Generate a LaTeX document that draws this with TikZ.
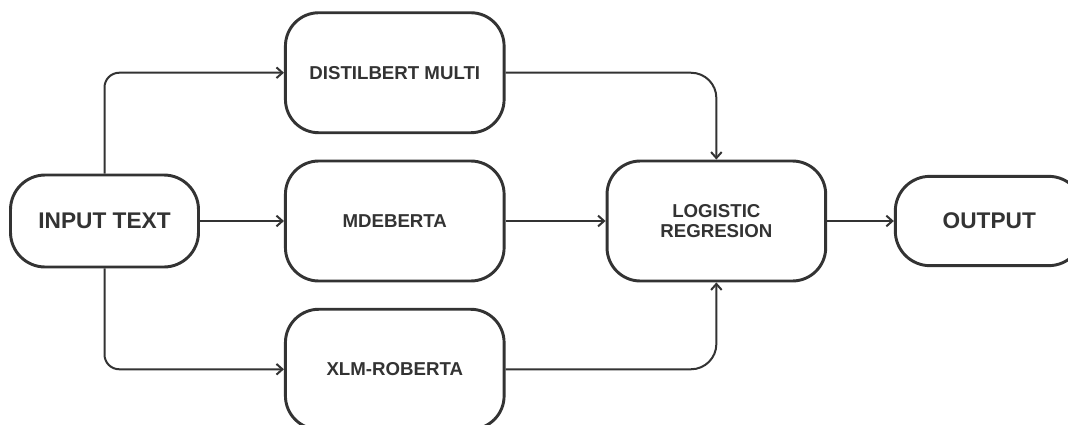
\documentclass[tikz,border=0pt]{standalone}
\usepackage{fontspec}
\setmainfont{Liberation Sans}
\usepackage{xcolor}
\usetikzlibrary{arrows.meta,positioning}
\definecolor{ink}{HTML}{333333}

\begin{document}
\begin{tikzpicture}[
  x=0.75pt, y=-0.75pt,
  node distance=19pt and 64pt,
  box/.style={draw=ink, line width=2.2pt, rounded corners=25pt, align=center,
              text=ink, font=\fontsize{14}{15}\selectfont\bfseries,
              minimum width=164pt, minimum height=90pt, inner sep=3pt},
  term/.style={box, rounded corners=26pt, font=\fontsize{17}{18}\selectfont\bfseries,
               minimum width=141pt, minimum height=69pt},
  arr/.style={-{Straight Barb[length=4.5pt,width=8pt]}, draw=ink, line width=1.5pt}
]
\useasboundingbox (0,0) rectangle (1068,425);

\node[term] (input) at (104.5,221) {INPUT TEXT};
\node[box, right=63pt of input] (mdeb) {MDEBERTA};
\node[box, above=of mdeb] (distil) {DISTILBERT MULTI};
\node[box, below=of mdeb] (xlm) {XLM-ROBERTA};
\node[box, right=75pt of mdeb] (logreg) {LOGISTIC\\REGRESION};
\node[term, minimum height=67pt, right=50pt of logreg] (output) {OUTPUT};

\draw[arr, rounded corners=11pt] (input.north) |- (distil.west);
\draw[arr] (input) -- (mdeb);
\draw[arr, rounded corners=11pt] (input.south) |- (xlm.west);

\draw[arr, rounded corners=19pt] (distil.east) -| (logreg.north);
\draw[arr] (mdeb) -- (logreg);
\draw[arr, rounded corners=19pt] (xlm.east) -| (logreg.south);
\draw[arr] (logreg) -- (output);
\end{tikzpicture}
\end{document}
